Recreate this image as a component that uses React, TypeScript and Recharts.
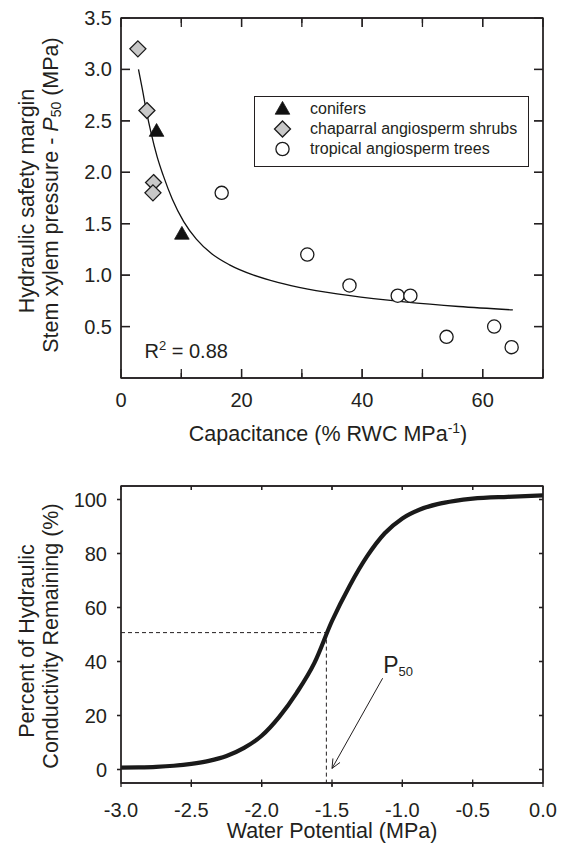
import React from 'react';
import {
    ComposedChart,
    Scatter,
    Line,
    XAxis,
    YAxis,
    Legend,
    Label,
    ReferenceLine,
    ReferenceDot,
    ReferenceArea,
} from 'recharts';

const FONT = '"Liberation Sans", Arial, Helvetica, sans-serif';
const INK = '#231f20';

// top panel: safety margin vs capacitance
const conifers = [
    { x: 5.9, y: 2.4 },
    { x: 10.1, y: 1.4 },
];
const chaparral = [
    { x: 2.8, y: 3.2 },
    { x: 4.3, y: 2.6 },
    { x: 5.4, y: 1.9 },
    { x: 5.3, y: 1.8 },
];
const tropical = [
    { x: 16.7, y: 1.8 },
    { x: 30.9, y: 1.2 },
    { x: 37.9, y: 0.9 },
    { x: 45.9, y: 0.8 },
    { x: 48.0, y: 0.8 },
    { x: 54.0, y: 0.4 },
    { x: 61.9, y: 0.5 },
    { x: 64.8, y: 0.3 },
];
const fitX = [2.9, 3.5, 4.2, 5, 6, 7, 8.5, 10.4, 12.5, 15, 18, 22, 26, 31, 38, 47, 56, 65];
const fitY = [3.0, 2.82, 2.6, 2.38, 2.15, 1.97, 1.74, 1.52, 1.35, 1.21, 1.1, 1.0, 0.93, 0.865, 0.8, 0.74, 0.695, 0.662];
const capDomain = [0, 70];
const capTicks = [0, 10, 20, 30, 40, 50, 60, 70];
const capInner = [10, 20, 30, 40, 50, 60];
const marginDomain = [0, 3.5];
const marginTicks = [0.5, 1.0, 1.5, 2.0, 2.5, 3.0, 3.5];
const marginInner = [0.5, 1.0, 1.5, 2.0, 2.5, 3.0];
const rSquared = '0.88';
const legendOrder = ['conifers', 'chaparral angiosperm shrubs', 'tropical angiosperm trees'];

// bottom panel: vulnerability curve
const psiX = [-3.0, -2.875, -2.75, -2.625, -2.5, -2.375, -2.25, -2.125, -2.0, -1.875, -1.75, -1.625, -1.5, -1.375, -1.25, -1.125, -1.0, -0.875, -0.75, -0.625, -0.5, -0.25, 0];
const plcY = [0.7, 0.8, 1.0, 1.4, 2.1, 3.2, 5.0, 8.0, 12.5, 19.5, 28.5, 39.5, 55, 68, 79, 87.5, 93, 96.3, 98.3, 99.5, 100.3, 101.0, 101.5];
const psiDomain = [-3, 0];
const psiTicks = [-3.0, -2.5, -2.0, -1.5, -1.0, -0.5, 0.0];
const psiInner = [-2.5, -2.0, -1.5, -1.0, -0.5];
const pctDomain = [-5, 105];
const pctTicks = [0, 20, 40, 60, 80, 100];
const p50 = { x: -1.54, y: 50.7 };
const arrowTail = { x: -1.14, y: 33.8 };
const arrowHead = { x: -1.5, y: 0.4 };

const fitCurve = fitX.map((x, i) => ({ x, y: fitY[i] }));
const vulnCurve = psiX.map((x, i) => ({ x, y: plcY[i] }));

// plot box sizes in px, used to turn tick lengths into axis units
const PLOT_W = 422;
const TOP_H = 360;
const BOT_H = 297;
const ux1 = (capDomain[1] - capDomain[0]) / PLOT_W;
const uy1 = (marginDomain[1] - marginDomain[0]) / TOP_H;
const ux2 = (psiDomain[1] - psiDomain[0]) / PLOT_W;
const uy2 = (pctDomain[1] - pctDomain[0]) / BOT_H;

type Box = { x1: number; x2: number; y1: number; y2: number };

const topTickBoxes: Box[] = [
    ...capInner.flatMap((v) => {
        const len = (v % 20 === 0 ? 9 : 5) * uy1;
        const hw = 0.65 * ux1;
        return [
            { x1: v - hw, x2: v + hw, y1: marginDomain[0], y2: marginDomain[0] + len },
            { x1: v - hw, x2: v + hw, y1: marginDomain[1] - len, y2: marginDomain[1] },
        ];
    }),
    ...marginInner.flatMap((v) => {
        const hh = 0.65 * uy1;
        return [
            { x1: capDomain[0], x2: capDomain[0] + 9 * ux1, y1: v - hh, y2: v + hh },
            { x1: capDomain[1] - 9 * ux1, x2: capDomain[1], y1: v - hh, y2: v + hh },
        ];
    }),
];

const bottomTickBoxes: Box[] = [
    ...psiInner.flatMap((v) => {
        const hw = 0.65 * ux2;
        return [
            { x1: v - hw, x2: v + hw, y1: pctDomain[1] - 4 * uy2, y2: pctDomain[1] },
            { x1: v - hw, x2: v + hw, y1: pctDomain[0] - 3.5 * uy2, y2: pctDomain[0] + 3.5 * uy2 },
        ];
    }),
    ...pctTicks.flatMap((v) => {
        const hh = 0.65 * uy2;
        return [
            { x1: psiDomain[0] - 4 * ux2, x2: psiDomain[0], y1: v - hh, y2: v + hh },
            { x1: psiDomain[1] - 4 * ux2, x2: psiDomain[1], y1: v - hh, y2: v + hh },
        ];
    }),
];

const markerFor: Record<string, string> = {
    conifers: 'triangle',
    'chaparral angiosperm shrubs': 'diamond',
    'tropical angiosperm trees': 'circle',
};

const Marker = ({ kind, cx, cy }: { kind: string; cx: number; cy: number }) => {
    if (kind === 'triangle') {
        return (
            <polygon
                points={`${cx},${cy - 7.6} ${cx + 7.3},${cy + 5.2} ${cx - 7.3},${cy + 5.2}`}
                fill="#111"
                stroke="#111"
                strokeWidth={0.8}
            />
        );
    }
    if (kind === 'diamond') {
        return (
            <polygon
                points={`${cx},${cy - 8} ${cx + 8},${cy} ${cx},${cy + 8} ${cx - 8},${cy}`}
                fill="#c8c8c8"
                stroke="#1a1a1a"
                strokeWidth={1.3}
            />
        );
    }
    return <circle cx={cx} cy={cy} r={6.6} fill="#fff" stroke="#1a1a1a" strokeWidth={1.3} />;
};

const shapeOf = (kind: string) => (p: any) => <Marker kind={kind} cx={p.cx} cy={p.cy} />;

const textStyle = { fontFamily: FONT, fontSize: 20, fill: INK };

const bottomLabel = (fmt: (v: number) => string | null, gap: number) => (props: any) => {
    const t = fmt(props.payload.value);
    if (!t) return <g />;
    return (
        <text x={props.x} y={props.y + gap} textAnchor="middle" {...textStyle}>
            {t}
        </text>
    );
};

const leftLabel = (fmt: (v: number) => string, gap: number) => (props: any) => (
    <text x={props.x - gap} y={props.y + 7} textAnchor="end" {...textStyle}>
        {fmt(props.payload.value)}
    </text>
);

const noLabel = () => <g />;

const LegendBox = (props: any) => {
    const items = (props.payload || [])
        .filter((p: any) => p.type !== 'none')
        .sort((a: any, b: any) => legendOrder.indexOf(a.value) - legendOrder.indexOf(b.value));
    return (
        <div
            style={{
                border: `1.3px solid ${INK}`,
                boxSizing: 'border-box',
                width: 275,
                height: 71,
                paddingTop: 2,
                background: '#fff',
            }}
        >
            {items.map((it: any) => (
                <div
                    key={it.value}
                    style={{ display: 'flex', alignItems: 'center', height: 20, fontFamily: FONT, fontSize: 16, color: INK }}
                >
                    <svg width={55} height={20} style={{ flex: 'none' }}>
                        <Marker kind={markerFor[it.value]} cx={27.5} cy={10} />
                    </svg>
                    <span>{it.value}</span>
                </div>
            ))}
        </div>
    );
};

const axisLine = { stroke: INK, strokeWidth: 1.3 };
const tickLine = { stroke: INK, strokeWidth: 1.3 };
const TITLE = 21.5;

const TopYTitle = () => (
    <g fontFamily={FONT} fontSize={TITLE} fill={INK}>
        <text x={27} y={201} transform="rotate(-90 27 201)" textAnchor="middle" dominantBaseline="central">
            Hydraulic safety margin
        </text>
        <text x={51} y={195} transform="rotate(-90 51 195)" textAnchor="middle" dominantBaseline="central">
            Stem xylem pressure -{' '}
            <tspan fontStyle="italic">P</tspan>
            <tspan dy={5} fontSize={14}>50</tspan>
            <tspan dy={-5}> (MPa)</tspan>
        </text>
    </g>
);

const TopXTitle = () => (
    <text x={328} y={441} textAnchor="middle" fontFamily={FONT} fontSize={TITLE} fill={INK}>
        Capacitance (% RWC MPa
        <tspan dy={-8} fontSize={14}>-1</tspan>
        <tspan dy={8}>)</tspan>
    </text>
);

const RLabel = (props: any) => {
    const vb = props.viewBox || {};
    return (
        <text x={vb.x} y={vb.y} fontFamily={FONT} fontSize={20} fill={INK}>
            R<tspan dy={-8} fontSize={13}>2</tspan>
            <tspan dy={8}> = {rSquared}</tspan>
        </text>
    );
};

const BottomYTitle = () => (
    <g fontFamily={FONT} fontSize={TITLE} fill={INK}>
        <text x={27} y={196} transform="rotate(-90 27 196)" textAnchor="middle" dominantBaseline="central">
            Percent of Hydraulic
        </text>
        <text x={51} y={191} transform="rotate(-90 51 191)" textAnchor="middle" dominantBaseline="central">
            Conductivity Remaining (%)
        </text>
    </g>
);

const BottomXTitle = () => (
    <text x={332} y={393} textAnchor="middle" fontFamily={FONT} fontSize={TITLE} fill={INK}>
        Water Potential (MPa)
    </text>
);

const Arrow = (p: any) => {
    const { x1, y1, x2, y2 } = p;
    const ang = Math.atan2(y1 - y2, x1 - x2);
    const h = 10;
    const w = 0.42;
    return (
        <g>
            <line x1={x1} y1={y1} x2={x2} y2={y2} stroke={INK} strokeWidth={1} />
            <polyline
                points={`${x2 + h * Math.cos(ang - w)},${y2 + h * Math.sin(ang - w)} ${x2},${y2} ${x2 + h * Math.cos(ang + w)},${y2 + h * Math.sin(ang + w)}`}
                fill="none"
                stroke={INK}
                strokeWidth={1}
            />
            <text x={x1 + 0.5} y={y1 - 5} fontFamily={FONT} fontSize={23} fill={INK}>
                P<tspan dy={3} fontSize={13}>50</tspan>
            </text>
        </g>
    );
};

const tickBoxes = (boxes: Box[], prefix: string) =>
    boxes.map((b, i) => (
        <ReferenceArea
            key={`${prefix}${i}`}
            x1={b.x1}
            x2={b.x2}
            y1={b.y1}
            y2={b.y2}
            fill={INK}
            fillOpacity={1}
            stroke="none"
            ifOverflow="visible"
        />
    ));

export default function App() {
    return (
        <div style={{ position: 'absolute', left: 0, top: 0, width: 565, height: 852, background: '#fff' }}>
            <div style={{ position: 'absolute', left: 0, top: 0 }}>
                <ComposedChart width={565} height={445} margin={{ top: 17, right: 21, bottom: 0, left: 0 }}>
                    <XAxis
                        dataKey="x"
                        type="number"
                        domain={capDomain}
                        ticks={capTicks}
                        interval={0}
                        allowDataOverflow
                        height={67}
                        axisLine={axisLine}
                        tickLine={tickLine}
                        tickSize={-9}
                        tickMargin={0}
                        tick={bottomLabel((v) => (v % 20 === 0 && v < 70 ? String(v) : null), 38)}
                    >
                        <Label content={<TopXTitle />} />
                    </XAxis>
                    <XAxis
                        xAxisId="top"
                        orientation="top"
                        dataKey="x"
                        type="number"
                        domain={capDomain}
                        ticks={capTicks}
                        interval={0}
                        allowDataOverflow
                        height={1}
                        axisLine={axisLine}
                        tickLine={tickLine}
                        tickSize={-9}
                        tickMargin={0}
                        tick={noLabel}
                    />
                    <YAxis
                        dataKey="y"
                        type="number"
                        domain={marginDomain}
                        ticks={marginTicks}
                        interval={0}
                        allowDataOverflow
                        width={121}
                        axisLine={axisLine}
                        tickLine={tickLine}
                        tickSize={-9}
                        tickMargin={0}
                        tick={leftLabel((v) => v.toFixed(1), 18)}
                    >
                        <Label content={<TopYTitle />} />
                    </YAxis>
                    <YAxis
                        yAxisId="r"
                        orientation="right"
                        dataKey="y"
                        type="number"
                        domain={marginDomain}
                        ticks={marginTicks}
                        interval={0}
                        allowDataOverflow
                        width={1}
                        axisLine={axisLine}
                        tickLine={tickLine}
                        tickSize={-9}
                        tickMargin={0}
                        tick={noLabel}
                    />
                    <ReferenceArea
                        x1={capDomain[0]}
                        x2={capDomain[1]}
                        y1={marginDomain[0]}
                        y2={marginDomain[1]}
                        fill="none"
                        stroke={INK}
                        strokeWidth={1.3}
                        ifOverflow="visible"
                    />
                    {tickBoxes(topTickBoxes, 't')}
                    <Line
                        data={fitCurve}
                        dataKey="y"
                        type="monotone"
                        stroke="#111"
                        strokeWidth={1.3}
                        dot={false}
                        activeDot={false}
                        legendType="none"
                        isAnimationActive={false}
                    />
                    <Scatter name="conifers" data={conifers} shape={shapeOf('triangle')} isAnimationActive={false} />
                    <Scatter name="chaparral angiosperm shrubs" data={chaparral} shape={shapeOf('diamond')} isAnimationActive={false} />
                    <Scatter name="tropical angiosperm trees" data={tropical} shape={shapeOf('circle')} isAnimationActive={false} />
                    <ReferenceDot x={3.9} y={0.19} r={0} fill="none" stroke="none" label={<RLabel />} />
                    <Legend
                        layout="vertical"
                        align="center"
                        verticalAlign="middle"
                        content={<LegendBox />}
                        wrapperStyle={{ left: 254, top: 96, width: 275, height: 71 }}
                    />
                </ComposedChart>
            </div>
            <div style={{ position: 'absolute', left: 0, top: 445 }}>
                <ComposedChart width={565} height={407} margin={{ top: 40, right: 21, bottom: 0, left: 0 }}>
                    <XAxis
                        dataKey="x"
                        type="number"
                        domain={psiDomain}
                        ticks={psiTicks}
                        interval={0}
                        allowDataOverflow
                        height={69}
                        axisLine={axisLine}
                        tickLine={tickLine}
                        tickSize={4}
                        tickMargin={0}
                        tick={bottomLabel((v) => v.toFixed(1), 30)}
                    >
                        <Label content={<BottomXTitle />} />
                    </XAxis>
                    <XAxis
                        xAxisId="top"
                        orientation="top"
                        dataKey="x"
                        type="number"
                        domain={psiDomain}
                        ticks={psiTicks}
                        interval={0}
                        allowDataOverflow
                        height={1}
                        axisLine={axisLine}
                        tickLine={tickLine}
                        tickSize={-4}
                        tickMargin={0}
                        tick={noLabel}
                    />
                    <YAxis
                        dataKey="y"
                        type="number"
                        domain={pctDomain}
                        ticks={pctTicks}
                        interval={0}
                        allowDataOverflow
                        width={121}
                        axisLine={axisLine}
                        tickLine={tickLine}
                        tickSize={4}
                        tickMargin={0}
                        tick={leftLabel((v) => String(v), 10)}
                    >
                        <Label content={<BottomYTitle />} />
                    </YAxis>
                    <YAxis
                        yAxisId="r"
                        orientation="right"
                        dataKey="y"
                        type="number"
                        domain={pctDomain}
                        ticks={pctTicks}
                        interval={0}
                        allowDataOverflow
                        width={1}
                        axisLine={axisLine}
                        tickLine={tickLine}
                        tickSize={-4}
                        tickMargin={0}
                        tick={noLabel}
                    />
                    <ReferenceArea
                        x1={psiDomain[0]}
                        x2={psiDomain[1]}
                        y1={pctDomain[0]}
                        y2={pctDomain[1]}
                        fill="none"
                        stroke={INK}
                        strokeWidth={1.3}
                        ifOverflow="visible"
                    />
                    {tickBoxes(bottomTickBoxes, 'b')}
                    <Line
                        data={vulnCurve}
                        dataKey="y"
                        type="monotone"
                        stroke="#1a1a1a"
                        strokeWidth={4.2}
                        dot={false}
                        activeDot={false}
                        isAnimationActive={false}
                    />
                    <ReferenceLine
                        segment={[{ x: -3, y: p50.y }, { x: p50.x, y: p50.y }]}
                        stroke={INK}
                        strokeWidth={1}
                        strokeDasharray="4 3"
                        ifOverflow="visible"
                    />
                    <ReferenceLine
                        segment={[{ x: p50.x, y: p50.y }, { x: p50.x, y: -5 }]}
                        stroke={INK}
                        strokeWidth={1}
                        strokeDasharray="4 3"
                        ifOverflow="visible"
                    />
                    <ReferenceLine segment={[arrowTail, arrowHead]} shape={<Arrow />} ifOverflow="visible" />
                </ComposedChart>
            </div>
        </div>
    );
}
